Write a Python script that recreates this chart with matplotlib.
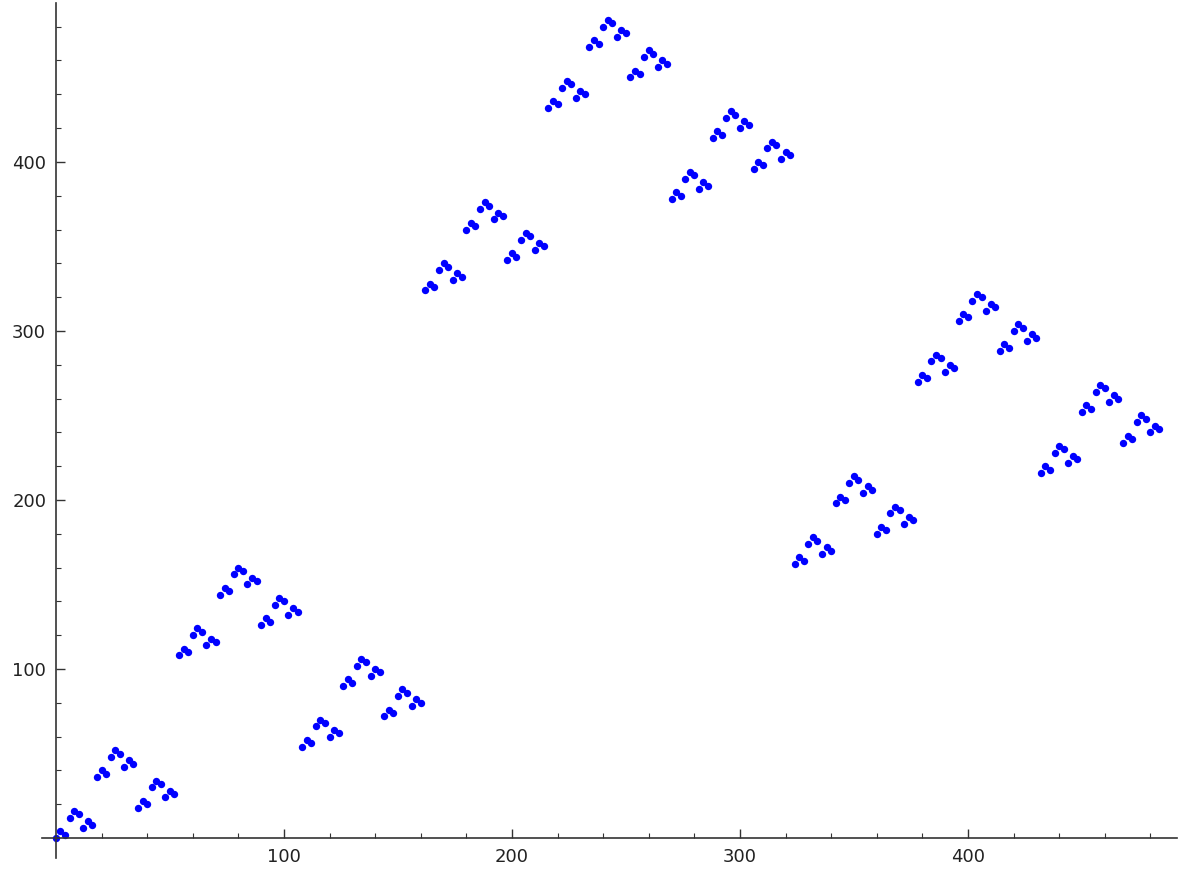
import matplotlib
matplotlib.use("Agg")
import matplotlib.pyplot as plt
import numpy as np
from matplotlib.ticker import FixedLocator

# x positions: every second integer from 0 to 484
x_vals = np.arange(0, 485, 2)

# y values (243 points, in order of x)
y_vals = [
    0, 4, 2, 12, 16, 14, 6, 10, 8, 36, 40, 38, 48, 52, 50, 42, 46, 44, 18, 22, 20, 30, 34, 32, 24, 28, 26,
    108, 112, 110, 120, 124, 122, 114, 118, 116, 144, 148, 146, 156, 160, 158, 150, 154, 152, 126, 130, 128, 138, 142, 140, 132, 136, 134,
    54, 58, 56, 66, 70, 68, 60, 64, 62, 90, 94, 92, 102, 106, 104, 96, 100, 98, 72, 76, 74, 84, 88, 86, 78, 82, 80,
    324, 328, 326, 336, 340, 338, 330, 334, 332, 360, 364, 362, 372, 376, 374, 366, 370, 368, 342, 346, 344, 354, 358, 356, 348, 352, 350,
    432, 436, 434, 444, 448, 446, 438, 442, 440, 468, 472, 470, 480, 484, 482, 474, 478, 476, 450, 454, 452, 462, 466, 464, 456, 460, 458,
    378, 382, 380, 390, 394, 392, 384, 388, 386, 414, 418, 416, 426, 430, 428, 420, 424, 422, 396, 400, 398, 408, 412, 410, 402, 406, 404,
    162, 166, 164, 174, 178, 176, 168, 172, 170, 198, 202, 200, 210, 214, 212, 204, 208, 206, 180, 184, 182, 192, 196, 194, 186, 190, 188,
    270, 274, 272, 282, 286, 284, 276, 280, 278, 306, 310, 308, 318, 322, 320, 312, 316, 314, 288, 292, 290, 300, 304, 302, 294, 298, 296,
    216, 220, 218, 228, 232, 230, 222, 226, 224, 252, 256, 254, 264, 268, 266, 258, 262, 260, 234, 238, 236, 246, 250, 248, 240, 244, 242,
]

major_ticks = [100, 200, 300, 400]

fig = plt.figure(figsize=(11.83, 8.73), dpi=100)
ax = fig.add_axes([42 / 1183, 15 / 873, 1135 / 1183, 855 / 873])

ax.plot(x_vals, y_vals, 'o', color='blue', markersize=5.3, markeredgewidth=0)

ax.set_xlim(-6.1, 491.7)
ax.set_ylim(-11.8, 494)

# sage style axes crossing at the origin
for side in ['top', 'right']:
    ax.spines[side].set_visible(False)
ax.spines['left'].set_position(('data', 0))
ax.spines['bottom'].set_position(('data', 0))
for side in ['left', 'bottom']:
    ax.spines[side].set_color('#333333')
    ax.spines[side].set_linewidth(1.2)

ax.xaxis.set_major_locator(FixedLocator(major_ticks))
ax.yaxis.set_major_locator(FixedLocator(major_ticks))
ax.xaxis.set_minor_locator(FixedLocator(range(20, 481, 20)))
ax.yaxis.set_minor_locator(FixedLocator(range(20, 481, 20)))
ax.tick_params(which='major', direction='in', length=6.5, width=1, color='#333333',
               labelsize=13, labelcolor='#222222', pad=7)
ax.tick_params(which='minor', direction='in', length=3.5, width=0.8, color='#333333')

fig.savefig('out.png', dpi=100)
